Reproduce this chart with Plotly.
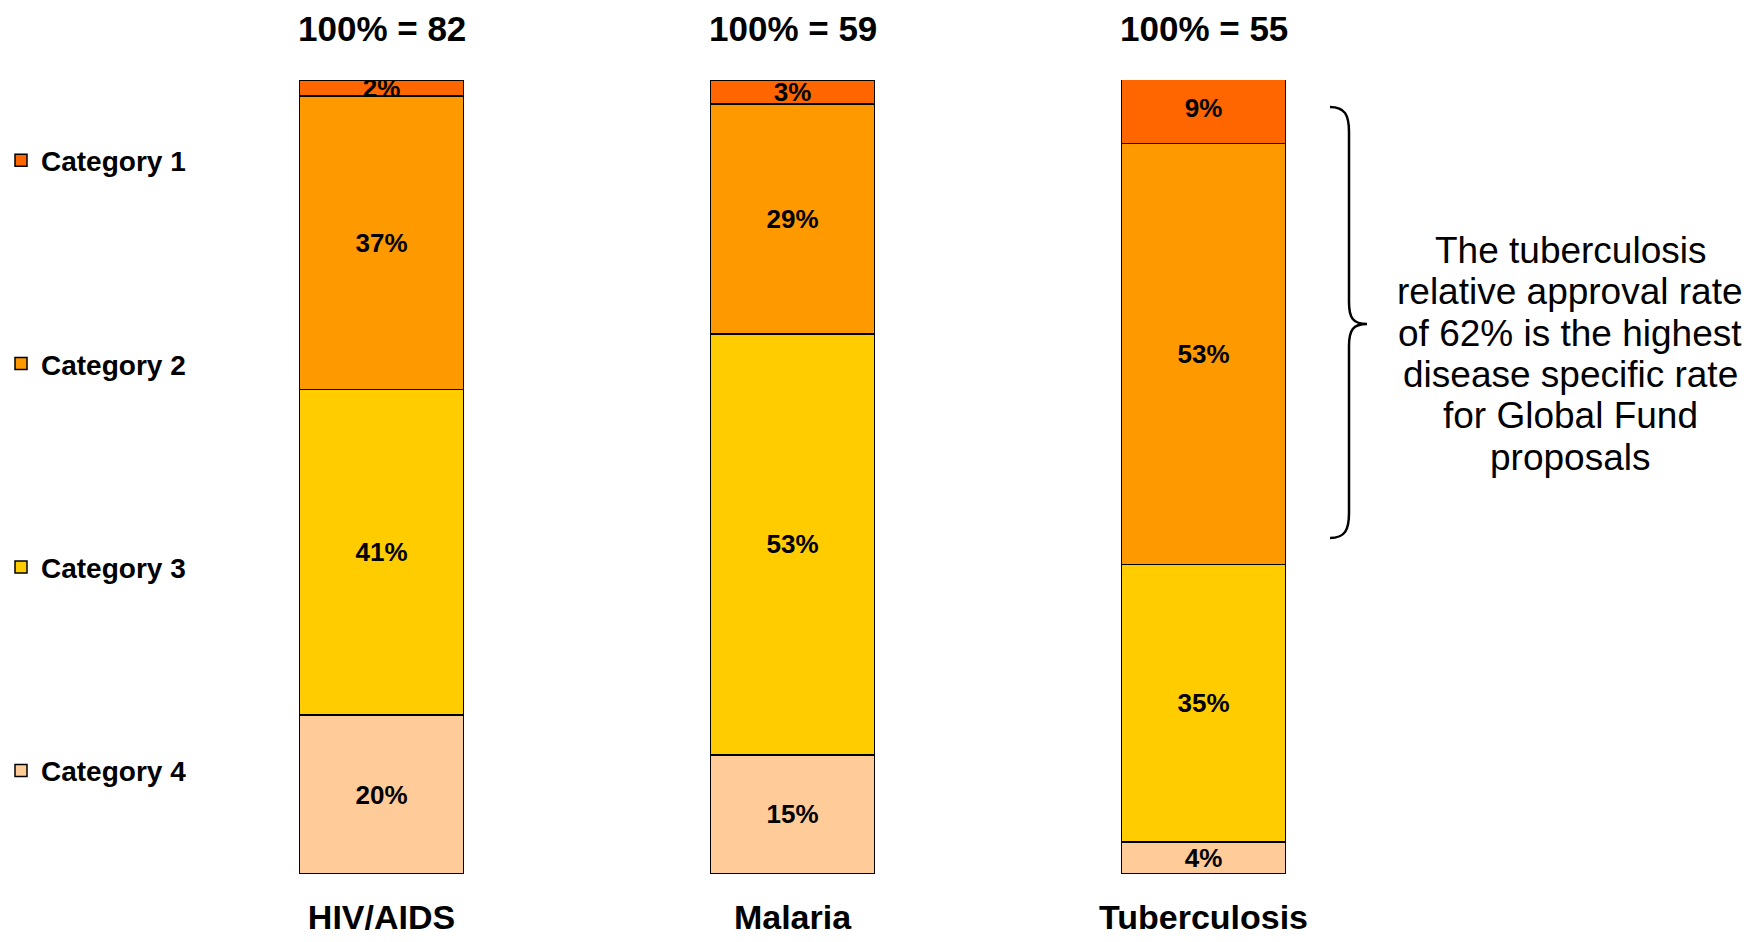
import plotly.graph_objects as go

diseases = ["HIV/AIDS", "Malaria", "Tuberculosis"]
totals = [82, 59, 55]
categories = ["Category 1", "Category 2", "Category 3", "Category 4"]
cat1 = [2, 3, 9]
cat2 = [37, 29, 53]
cat3 = [41, 53, 35]
cat4 = [20, 15, 4]
colors = {"Category 1": "#FF6600", "Category 2": "#FF9900",
          "Category 3": "#FFCC00", "Category 4": "#FFCC99"}
note_lines = ["The tuberculosis", "relative approval rate", "of 62% is the highest",
              "disease specific rate", "for Global Fund", "proposals"]

FONT = "Liberation Sans, Arial, sans-serif"
W, H = 1752, 942
ML, MR, MT, MB = 176, 343, 80, 68
PW, PH = W - ML - MR, H - MT - MB

series = {"Category 1": cat1, "Category 2": cat2, "Category 3": cat3, "Category 4": cat4}

fig = go.Figure()
for name in reversed(categories):
    fig.add_trace(go.Bar(
        x=diseases, y=series[name], name=name, width=0.4,
        marker=dict(color=colors[name], line=dict(color="black", width=1.5)),
        texttemplate="%{y}%", textposition="inside", insidetextanchor="middle",
        textangle=0, constraintext="none",
        textfont=dict(family=FONT, size=26, color="black", weight="bold"),
        legendgroup=name, legendrank=categories.index(name) + 1,
    ))

# "100% = N" labels above bars
for d, t in zip(diseases, totals):
    fig.add_annotation(x=d, y=1, xref="x", yref="paper", yanchor="middle",
                       yshift=52, text=f"100% = {t}", showarrow=False,
                       font=dict(family=FONT, size=35, color="black", weight="bold"))

def px(x):
    return (x - ML) / PW

def py(y):
    return (H - MB - y) / PH

pts = [(1330, 107), (1345, 107), (1349, 115), (1349, 132), (1349, 302),
       (1349, 318), (1353, 324), (1367, 324), (1353, 324), (1349, 330),
       (1349, 346), (1349, 513), (1349, 530), (1345, 538), (1330, 538)]
P = [f"{px(a):.5f},{py(b):.5f}" for a, b in pts]
path = (f"M {P[0]} C {P[1]} {P[2]} {P[3]} L {P[4]} C {P[5]} {P[6]} {P[7]} "
        f"C {P[8]} {P[9]} {P[10]} L {P[11]} C {P[12]} {P[13]} {P[14]}")
fig.add_shape(type="path", path=path, xref="paper", yref="paper",
              line=dict(color="black", width=2.5))

for k, line in enumerate(note_lines):
    fig.add_annotation(x=px(1570), y=py(250.5 + 41.3 * k), xref="paper", yref="paper",
                       text=line, showarrow=False, xanchor="center", yanchor="middle",
                       font=dict(family=FONT, size=37, color="black"))

fig.update_layout(
    barmode="stack",
    width=W, height=H,
    margin=dict(l=ML, r=MR, t=MT, b=MB, pad=0, autoexpand=False),
    plot_bgcolor="white", paper_bgcolor="white",
    uniformtext=dict(mode="show", minsize=26),
    showlegend=True,
    legend=dict(x=px(1), y=py(135.5), xanchor="left", yanchor="top",
                traceorder="grouped", tracegroupgap=164,
                font=dict(family=FONT, size=28, color="black", weight="bold"),
                bgcolor="rgba(0,0,0,0)"),
    xaxis=dict(range=[-0.5, 2.5], showline=False, showgrid=False, zeroline=False,
               ticks="", ticklabelstandoff=20, automargin=False,
               tickfont=dict(family=FONT, size=34, color="black", weight="bold")),
    yaxis=dict(range=[0, 100], visible=False, automargin=False),
)

fig.write_html("out.html")
